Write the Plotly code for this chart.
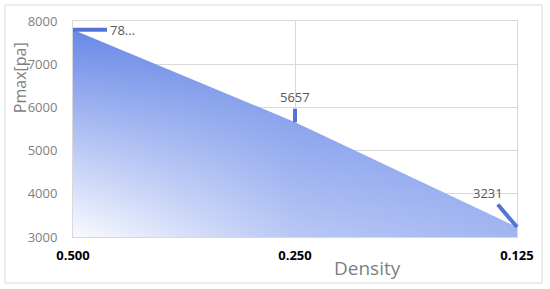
import plotly.graph_objects as go

categories = ["0.500", "0.250", "0.125"]
values = [7800, 5657, 3231]
label_texts = ["78...", "5657", "3231"]
label_ax = [49, 0, -29]
label_ay = [0, -25, -34]

y_ticks = [3000, 4000, 5000, 6000, 7000, 8000]

xidx = list(range(len(categories)))

fig = go.Figure()
# vertical gradient layer
fig.add_trace(go.Scatter(
    x=xidx, y=values, mode="lines", fill="tozeroy",
    line=dict(width=0, color="rgba(0,0,0,0)"),
    fillgradient=dict(type="vertical", start=3000, stop=7800,
                      colorscale=[[0, "rgb(250,251,255)"], [1, "rgb(104,136,231)"]]),
    hoverinfo="skip", showlegend=False,
))
# horizontal tint layer
fig.add_trace(go.Scatter(
    x=xidx, y=values, mode="lines", fill="tozeroy",
    line=dict(width=0, color="rgba(0,0,0,0)"),
    fillgradient=dict(type="horizontal", start=0, stop=2,
                      colorscale=[[0, "rgba(104,136,231,0)"], [0.5, "rgba(104,136,231,0.45)"],
                                  [1, "rgba(104,136,231,0.6)"]]),
    hoverinfo="skip", showlegend=False,
))

for i, v, t, ax, ay in zip(xidx, values, label_texts, label_ax, label_ay):
    fig.add_annotation(
        x=i, y=v, text=t, showarrow=True, arrowhead=0, arrowwidth=4,
        arrowcolor="#5475d8", ax=ax, ay=ay, borderpad=2,
        font=dict(family="Open Sans", size=13, color="#595959"),
    )

fig.add_annotation(xref="paper", yref="paper", x=0.664, y=-0.1435,
                   xanchor="center", yanchor="middle",
                   text="Density", showarrow=False,
                   font=dict(family="Open Sans", size=19, color="#7f7f7f"))
fig.add_annotation(xref="paper", yref="paper", x=-0.119, y=0.736,
                   xanchor="center", yanchor="middle",
                   text="Pmax[pa]", showarrow=False, textangle=-90,
                   font=dict(family="Open Sans", size=16, color="#7f7f7f"))

fig.add_shape(type="rect", xref="paper", yref="paper",
              x0=-0.1532, x1=1.0563, y0=-0.213, y1=1.074,
              line=dict(color="#d9d9d9", width=1), layer="below")

fig.update_layout(
    width=550, height=289,
    margin=dict(l=73, r=33, t=21, b=52, autoexpand=False),
    paper_bgcolor="white", plot_bgcolor="white",
    xaxis=dict(range=[0, 2], tickvals=xidx, ticktext=categories,
               showgrid=True, gridcolor="#d9d9d9", automargin=False,
               showline=True, linecolor="#d9d9d9", mirror=True, ticks="",
               ticklabelstandoff=6, zeroline=False,
               tickfont=dict(family="Open Sans", size=13, color="#000000", weight="bold")),
    yaxis=dict(range=[3000, 8000], tickvals=y_ticks, showgrid=True, gridcolor="#d9d9d9",
               showline=True, linecolor="#d9d9d9", mirror=True, ticks="", automargin=False,
               ticklabelstandoff=12, zeroline=False,
               tickfont=dict(family="Open Sans", size=13, color="#7f7f7f")),
)

fig.write_html("out.html", config={"displayModeBar": False},
               post_script="document.body.style.margin='0';")
